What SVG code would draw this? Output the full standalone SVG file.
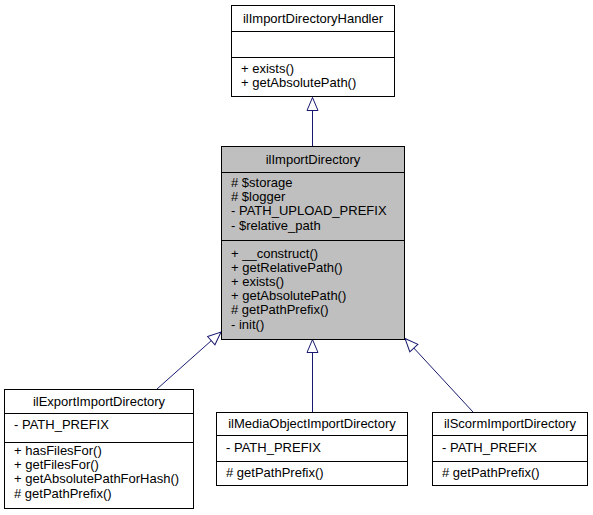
<svg xmlns="http://www.w3.org/2000/svg" width="593" height="515" viewBox="0 0 593 515">
<style>
text{font-family:"Liberation Sans",Arial,sans-serif;font-size:13px;fill:#000}
.c{text-anchor:middle}
.box{fill:#fff;stroke:#000;stroke-width:1}
.main{fill:#bfbfbf;stroke:#000;stroke-width:1}
.sep{stroke:#000;stroke-width:1}
.edge{stroke:#191970;stroke-width:1;fill:none;marker-end:url(#inh)}
</style>
<defs>
<marker id="inh" markerUnits="userSpaceOnUse" markerWidth="14" markerHeight="12" refX="13" refY="6" orient="auto" overflow="visible">
<path d="M0,0.5 L13,6 L0,11.5 Z" fill="#fff" stroke="#191970" stroke-width="1"/>
</marker>
</defs>
<rect width="593" height="515" fill="#fff"/>
<g id="connectors">
<line class="edge" x1="312.5" y1="146" x2="312.5" y2="97.5"/>
<line class="edge" x1="312.5" y1="412" x2="312.5" y2="339.5"/>
<line class="edge" x1="157" y1="389" x2="221" y2="332"/>
<line class="edge" x1="473" y1="412" x2="405" y2="338.5"/>
</g>
<g id="ilImportDirectoryHandler">
<rect class="box" x="231.5" y="5.5" width="163" height="91"/>
<line class="sep" x1="231.5" y1="31.5" x2="394.5" y2="31.5"/>
<line class="sep" x1="231.5" y1="57.5" x2="394.5" y2="57.5"/>
<text class="c" x="313" y="23">ilImportDirectoryHandler</text>
<text x="241" y="73">+ exists()</text>
<text x="241" y="87">+ getAbsolutePath()</text>
</g>
<g id="ilImportDirectory">
<rect class="main" x="221.5" y="146.5" width="183" height="193"/>
<line class="sep" x1="221.5" y1="172.5" x2="404.5" y2="172.5"/>
<line class="sep" x1="221.5" y1="240.5" x2="404.5" y2="240.5"/>
<text class="c" x="313" y="163.5">ilImportDirectory</text>
<text x="231" y="187"># $storage</text>
<text x="231" y="201.2"># $logger</text>
<text x="231" y="215.4">- PATH_UPLOAD_PREFIX</text>
<text x="231" y="229.6">- $relative_path</text>
<text x="231" y="257.5">+ __construct()</text>
<text x="231" y="271.7">+ getRelativePath()</text>
<text x="231" y="285.9">+ exists()</text>
<text x="231" y="300.1">+ getAbsolutePath()</text>
<text x="231" y="314.3"># getPathPrefix()</text>
<text x="231" y="328.5">- init()</text>
</g>
<g id="ilExportImportDirectory">
<rect class="box" x="4.5" y="389.5" width="189" height="119"/>
<line class="sep" x1="4.5" y1="413.5" x2="193.5" y2="413.5"/>
<line class="sep" x1="4.5" y1="442.5" x2="193.5" y2="442.5"/>
<text class="c" x="99" y="406">ilExportImportDirectory</text>
<text x="14" y="428.5">- PATH_PREFIX</text>
<text x="14" y="455">+ hasFilesFor()</text>
<text x="14" y="469.2">+ getFilesFor()</text>
<text x="14" y="483.4">+ getAbsolutePathForHash()</text>
<text x="14" y="497.6"># getPathPrefix()</text>
</g>
<g id="ilMediaObjectImportDirectory">
<rect class="box" x="216.5" y="412.5" width="191" height="73"/>
<line class="sep" x1="216.5" y1="435.5" x2="407.5" y2="435.5"/>
<line class="sep" x1="216.5" y1="461.5" x2="407.5" y2="461.5"/>
<text class="c" x="312" y="428">ilMediaObjectImportDirectory</text>
<text x="226" y="452">- PATH_PREFIX</text>
<text x="226" y="477"># getPathPrefix()</text>
</g>
<g id="ilScormImportDirectory">
<rect class="box" x="432.5" y="412.5" width="155" height="73"/>
<line class="sep" x1="432.5" y1="435.5" x2="587.5" y2="435.5"/>
<line class="sep" x1="432.5" y1="461.5" x2="587.5" y2="461.5"/>
<text class="c" x="510" y="428">ilScormImportDirectory</text>
<text x="442" y="452">- PATH_PREFIX</text>
<text x="442" y="477"># getPathPrefix()</text>
</g>
</svg>
